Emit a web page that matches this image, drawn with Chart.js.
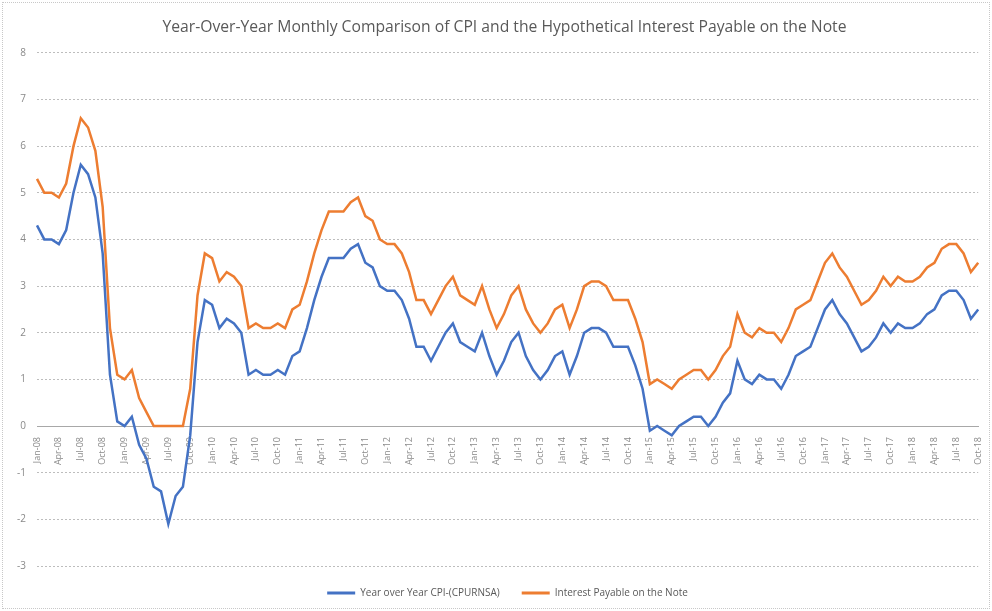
<!DOCTYPE html>
<html>
<head>
<meta charset="utf-8">
<script src="https://cdn.jsdelivr.net/npm/chart.js@4.4.1/dist/chart.umd.min.js"></script>
<style>
  html, body { margin: 0; padding: 0; background: #fff; }
  #wrap { position: relative; width: 992px; height: 611px; }
  #frame { position: absolute; left: 2px; top: 2px; width: 986px; height: 605px;
           border: 1px dotted #c8c8c8; pointer-events: none; }
  canvas { position: absolute; left: 0; top: 0; }
</style>
</head>
<body>
<div id="wrap">
  <canvas id="cpiChart" width="992" height="611"></canvas>
  <div id="frame"></div>
</div>
<script>
// month / year pieces for the category axis
const monthNames = ['Jan', 'Feb', 'Mar', 'Apr', 'May', 'Jun', 'Jul', 'Aug', 'Sep', 'Oct', 'Nov', 'Dec'];
const years = ['08', '09', '10', '11', '12', '13', '14', '15', '16', '17', '18'];
const lastMonthCount = 10; // 2018 stops at Oct

// Year over Year CPI (CPURNSA), Jan-08 .. Oct-18
const cpiYoY = [
  4.3, 4.0, 4.0, 3.9, 4.2, 5.0, 5.6, 5.4, 4.9, 3.7, 1.1, 0.1,
  0.0, 0.2, -0.4, -0.7, -1.3, -1.4, -2.1, -1.5, -1.3, -0.2, 1.8, 2.7,
  2.6, 2.1, 2.3, 2.2, 2.0, 1.1, 1.2, 1.1, 1.1, 1.2, 1.1, 1.5,
  1.6, 2.1, 2.7, 3.2, 3.6, 3.6, 3.6, 3.8, 3.9, 3.5, 3.4, 3.0,
  2.9, 2.9, 2.7, 2.3, 1.7, 1.7, 1.4, 1.7, 2.0, 2.2, 1.8, 1.7,
  1.6, 2.0, 1.5, 1.1, 1.4, 1.8, 2.0, 1.5, 1.2, 1.0, 1.2, 1.5,
  1.6, 1.1, 1.5, 2.0, 2.1, 2.1, 2.0, 1.7, 1.7, 1.7, 1.3, 0.8,
  -0.1, 0.0, -0.1, -0.2, 0.0, 0.1, 0.2, 0.2, 0.0, 0.2, 0.5, 0.7,
  1.4, 1.0, 0.9, 1.1, 1.0, 1.0, 0.8, 1.1, 1.5, 1.6, 1.7, 2.1,
  2.5, 2.7, 2.4, 2.2, 1.9, 1.6, 1.7, 1.9, 2.2, 2.0, 2.2, 2.1,
  2.1, 2.2, 2.4, 2.5, 2.8, 2.9, 2.9, 2.7, 2.3, 2.5
];

// Interest Payable on the Note, same months
const interestPayable = [
  5.3, 5.0, 5.0, 4.9, 5.2, 6.0, 6.6, 6.4, 5.9, 4.7, 2.1, 1.1,
  1.0, 1.2, 0.6, 0.3, 0.0, 0.0, 0.0, 0.0, 0.0, 0.8, 2.8, 3.7,
  3.6, 3.1, 3.3, 3.2, 3.0, 2.1, 2.2, 2.1, 2.1, 2.2, 2.1, 2.5,
  2.6, 3.1, 3.7, 4.2, 4.6, 4.6, 4.6, 4.8, 4.9, 4.5, 4.4, 4.0,
  3.9, 3.9, 3.7, 3.3, 2.7, 2.7, 2.4, 2.7, 3.0, 3.2, 2.8, 2.7,
  2.6, 3.0, 2.5, 2.1, 2.4, 2.8, 3.0, 2.5, 2.2, 2.0, 2.2, 2.5,
  2.6, 2.1, 2.5, 3.0, 3.1, 3.1, 3.0, 2.7, 2.7, 2.7, 2.3, 1.8,
  0.9, 1.0, 0.9, 0.8, 1.0, 1.1, 1.2, 1.2, 1.0, 1.2, 1.5, 1.7,
  2.4, 2.0, 1.9, 2.1, 2.0, 2.0, 1.8, 2.1, 2.5, 2.6, 2.7, 3.1,
  3.5, 3.7, 3.4, 3.2, 2.9, 2.6, 2.7, 2.9, 3.2, 3.0, 3.2, 3.1,
  3.1, 3.2, 3.4, 3.5, 3.8, 3.9, 3.9, 3.7, 3.3, 3.5
];

const yTicks = [-3, -2, -1, 0, 1, 2, 3, 4, 5, 6, 7, 8];

const labels = [];
years.forEach((yr, yi) => {
  const n = yi === years.length - 1 ? lastMonthCount : 12;
  for (let m = 0; m < n; m++) labels.push(monthNames[m] + '-' + yr);
});

const axisGray = '#8a8a8a';
const gridGray = '#bdbdbd';

// nudge the legend and title a little right, like the original
const blockShift = {
  id: 'blockShift',
  afterLayout(chart) {
    if (chart.legend) {
      chart.legend.left += 13;
      chart.legend.right += 13;
    }
    if (chart.titleBlock) {
      chart.titleBlock.left += 10;
      chart.titleBlock.right += 10;
    }
  }
};

new Chart(document.getElementById('cpiChart'), {
  type: 'line',
  data: {
    labels: labels,
    datasets: [
      {
        label: 'Year over Year CPI-(CPURNSA)',
        data: cpiYoY,
        borderColor: '#4472C4',
        backgroundColor: '#4472C4',
        borderWidth: 2.5,
        pointRadius: 0,
        tension: 0
      },
      {
        label: 'Interest Payable on the Note',
        data: interestPayable,
        borderColor: '#ED7D31',
        backgroundColor: '#ED7D31',
        borderWidth: 2.5,
        pointRadius: 0,
        tension: 0
      }
    ]
  },
  plugins: [blockShift],
  options: {
    responsive: false,
    animation: false,
    layout: { padding: { left: 0, right: 3, top: 0, bottom: 3 } },
    plugins: {
      title: {
        display: true,
        text: 'Year-Over-Year Monthly Comparison of CPI and the Hypothetical Interest Payable on the Note',
        color: '#595959',
        font: { family: 'Open Sans', size: 15.7, weight: 'normal' },
        padding: { top: 18, bottom: 16 }
      },
      legend: {
        position: 'bottom',
        labels: {
          color: '#595959',
          font: { family: 'Open Sans', size: 10 },
          boxWidth: 28,
          boxHeight: 3,
          padding: 22,
          generateLabels: (chart) => {
            const items = Chart.defaults.plugins.legend.labels.generateLabels(chart);
            items.forEach(it => { it.lineWidth = 0; });
            return items;
          }
        }
      },
      tooltip: { enabled: false }
    },
    scales: {
      x: {
        position: { y: 0 },
        offset: false,
        grid: { display: false },
        border: { display: true, color: '#a8a8a8', dash: [2, 2], width: 1 },
        ticks: {
          color: axisGray,
          font: { family: 'Open Sans', size: 9 },
          autoSkip: false,
          maxRotation: 90,
          minRotation: 90,
          padding: 3,
          callback: function (val, idx) {
            return idx % 3 === 0 ? this.getLabelForValue(val) : '';
          }
        }
      },
      y: {
        min: -3,
        max: 8,
        afterFit: (s) => { s.width = 37; },
        afterBuildTicks: (s) => { s.ticks = yTicks.map(v => ({ value: v })); },
        grid: { color: gridGray, lineWidth: 1, drawTicks: false },
        border: { display: false, dash: [2, 2] },
        ticks: {
          color: axisGray,
          font: { family: 'Open Sans', size: 10 },
          padding: 11
        }
      }
    }
  }
});
</script>
</body>
</html>
